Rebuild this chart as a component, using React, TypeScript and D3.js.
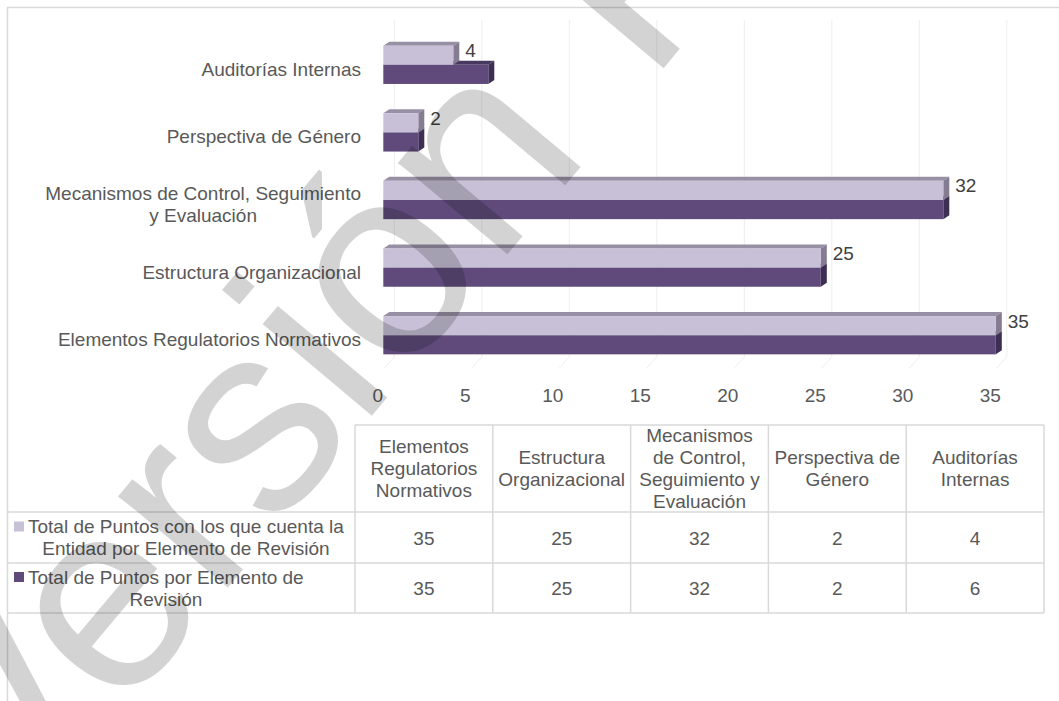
import React, { useEffect, useRef } from "react";
import * as d3 from "d3";

// ---------- data ----------
const categories = [
  "Elementos Regulatorios Normativos",
  "Estructura Organizacional",
  "Mecanismos de Control, Seguimiento y Evaluación",
  "Perspectiva de Género",
  "Auditorías Internas",
];
const axisLabelLines = [
  ["Elementos Regulatorios Normativos"],
  ["Estructura Organizacional"],
  ["Mecanismos de Control, Seguimiento", "y Evaluación"],
  ["Perspectiva de Género"],
  ["Auditorías Internas"],
];
const headerLines = [
  ["Elementos", "Regulatorios", "Normativos"],
  ["Estructura", "Organizacional"],
  ["Mecanismos", "de Control,", "Seguimiento y", "Evaluación"],
  ["Perspectiva de", "Género"],
  ["Auditorías", "Internas"],
];
const seriesNameLines = [
  ["Total de Puntos con los que cuenta la", "Entidad por Elemento de Revisión"],
  ["Total de Puntos por Elemento de", "Revisión"],
];
const puntosEntidad = [35, 25, 32, 2, 4];
const puntosTotales = [35, 25, 32, 2, 6];
const xTicks = [0, 5, 10, 15, 20, 25, 30, 35];
const watermarkWords = ["Versión", "Pública"];

// ---------- styles ----------
const W = 1059;
const H = 701;
const FONT = "'Liberation Sans', Arial, sans-serif";
const FS = 19;
const TEXT = "#595959";
const GRID = "#d9d9d9";
const lightColors = { front: "#c8c0d7", top: "#978fa4", side: "#857c92" };
const darkColors = { front: "#5f4a7b", top: "#48385f", side: "#3d2e53" };
const DX = 6;
const DY = 4;

export default function App() {
  const ref = useRef<SVGSVGElement>(null);

  useEffect(() => {
    const svg = d3.select(ref.current);
    svg.selectAll("*").remove();

    svg.append("rect").attr("width", W).attr("height", H).attr("fill", "#fff");

    const x = d3.scaleLinear().domain([0, 35]).range([383.3, 995.8]);
    const y = d3
      .scaleBand<string>()
      .domain(categories.slice().reverse())
      .range([31, 369])
      .paddingInner(0.4334)
      .paddingOuter(0.2167);
    const bw = y.bandwidth();

    // chart border
    svg
      .append("path")
      .attr("d", `M7.5,${H} V7.5 H${W}`)
      .attr("fill", "none")
      .attr("stroke", GRID)
      .attr("stroke-width", 1.5);

    // back wall gridlines + floor lines
    const grid = svg.append("g");
    xTicks.forEach((t) => {
      grid
        .append("line")
        .attr("x1", x(t) + 11)
        .attr("x2", x(t) + 11)
        .attr("y1", 20)
        .attr("y2", 357)
        .attr("stroke", "#eeeeee")
        .attr("stroke-width", 1);
      grid
        .append("line")
        .attr("x1", x(t) + 1)
        .attr("y1", 368)
        .attr("x2", x(t) + 11)
        .attr("y2", 357)
        .attr("stroke", "#eeeeee")
        .attr("stroke-width", 1);
    });

    // 3D bars
    const drawBar = (g: any, v: number, yT: number, yB: number, c: any) => {
      const x0 = x(0);
      const x1 = x(v);
      g.append("polygon")
        .attr(
          "points",
          [
            [x0, yT],
            [x0 + DX, yT - DY],
            [x1 + DX, yT - DY],
            [x1, yT],
          ].join(" ")
        )
        .attr("fill", c.top);
      g.append("polygon")
        .attr(
          "points",
          [
            [x1, yT],
            [x1 + DX, yT - DY],
            [x1 + DX, yB - DY],
            [x1, yB],
          ].join(" ")
        )
        .attr("fill", c.side);
      g.append("rect")
        .attr("x", x0)
        .attr("y", yT)
        .attr("width", x1 - x0)
        .attr("height", yB - yT)
        .attr("fill", c.front);
    };

    const bars = svg.append("g");
    categories.forEach((cat, i) => {
      const top = y(cat)!;
      const mid = top + bw / 2;
      const bot = top + bw;
      drawBar(bars, puntosTotales[i], mid, bot, darkColors);
      drawBar(bars, puntosEntidad[i], top, mid, lightColors);
      bars
        .append("text")
        .attr("x", x(puntosEntidad[i]) + DX + 6)
        .attr("y", top + 5)
        .attr("dominant-baseline", "central")
        .attr("font-family", FONT)
        .attr("font-size", FS)
        .attr("fill", "#404040")
        .text(String(puntosEntidad[i]));
    });

    // category axis labels
    const catG = svg.append("g");
    categories.forEach((cat, i) => {
      const lines = axisLabelLines[i];
      const center = y(cat)! + bw / 2 + 4.5;
      const texts = lines.map((ln, k) =>
        catG
          .append("text")
          .attr("y", center + (k - (lines.length - 1) / 2) * 21.7)
          .attr("dominant-baseline", "central")
          .attr("text-anchor", "middle")
          .attr("font-family", FONT)
          .attr("font-size", FS)
          .attr("fill", TEXT)
          .text(ln)
      );
      const maxW = d3.max(texts, (t: any) => (t.node() as SVGTextElement).getComputedTextLength()) || 0;
      texts.forEach((t: any) => t.attr("x", 361 - maxW / 2));
    });

    // value tick labels
    xTicks.forEach((t) => {
      svg
        .append("text")
        .attr("x", x(t) - 5.5)
        .attr("y", 395)
        .attr("dominant-baseline", "central")
        .attr("text-anchor", "middle")
        .attr("font-family", FONT)
        .attr("font-size", FS)
        .attr("fill", TEXT)
        .text(String(t));
    });

    // data table
    const col = d3.scaleBand<string>().domain(categories).range([355, 1044]);
    const tG = svg.append("g").attr("stroke", GRID).attr("stroke-width", 1.5);
    const tableTop = 425;
    const rowLines = [512, 563, 613];
    tG.append("line").attr("x1", 355).attr("x2", 1044).attr("y1", tableTop).attr("y2", tableTop);
    rowLines.forEach((ry) =>
      tG.append("line").attr("x1", 7).attr("x2", 1044).attr("y1", ry).attr("y2", ry)
    );
    categories.forEach((cat) => {
      tG.append("line")
        .attr("x1", col(cat)!)
        .attr("x2", col(cat)!)
        .attr("y1", tableTop)
        .attr("y2", 613);
    });
    tG.append("line").attr("x1", 1044).attr("x2", 1044).attr("y1", tableTop).attr("y2", 613);

    const headerCenter = (tableTop + rowLines[0]) / 2;
    categories.forEach((cat, i) => {
      const cx = col(cat)! + col.bandwidth() / 2;
      const lines = headerLines[i];
      lines.forEach((ln, k) => {
        svg
          .append("text")
          .attr("x", cx)
          .attr("y", headerCenter + (k - (lines.length - 1) / 2) * 21.7)
          .attr("dominant-baseline", "central")
          .attr("text-anchor", "middle")
          .attr("font-family", FONT)
          .attr("font-size", FS)
          .attr("fill", TEXT)
          .text(ln);
      });
    });

    const rowsData = [puntosEntidad, puntosTotales];
    const rowColors = [lightColors.front, darkColors.front];
    const rowBounds = [
      [rowLines[0], rowLines[1]],
      [rowLines[1], rowLines[2]],
    ];
    rowsData.forEach((vals, r) => {
      const rc = (rowBounds[r][0] + rowBounds[r][1]) / 2;
      categories.forEach((cat, i) => {
        svg
          .append("text")
          .attr("x", col(cat)! + col.bandwidth() / 2)
          .attr("y", rc + 0.5)
          .attr("dominant-baseline", "central")
          .attr("text-anchor", "middle")
          .attr("font-family", FONT)
          .attr("font-size", FS)
          .attr("fill", TEXT)
          .text(String(vals[i]));
      });
      const lines = seriesNameLines[r];
      const l0 = rc - 11;
      svg
        .append("rect")
        .attr("x", 14)
        .attr("y", l0 - 5)
        .attr("width", 10)
        .attr("height", 10)
        .attr("fill", rowColors[r]);
      const texts = lines.map((ln, k) =>
        svg
          .append("text")
          .attr("y", l0 + k * 22)
          .attr("dominant-baseline", "central")
          .attr("text-anchor", "middle")
          .attr("font-family", FONT)
          .attr("font-size", FS)
          .attr("fill", TEXT)
          .text(ln)
      );
      const maxW = d3.max(texts, (t: any) => (t.node() as SVGTextElement).getComputedTextLength()) || 0;
      texts.forEach((t: any) => t.attr("x", 28 + maxW / 2));
    });

    // watermark (two words placed along a -50° baseline)
    const ang = (-50 * Math.PI) / 180;
    const wmSize = 270;
    const ox = 13;
    const oy = 843.5;
    const wordOffsets = [0, 990];
    watermarkWords.forEach((w, i) => {
      const d = wordOffsets[i];
      const px = ox + d * Math.cos(ang);
      const py = oy + d * Math.sin(ang);
      svg
        .append("text")
        .attr("transform", `translate(${px},${py}) rotate(-50)`)
        .attr("font-family", FONT)
        .attr("font-size", wmSize)
        .attr("fill", "#000")
        .attr("fill-opacity", 0.172)
        .text(w);
    });
  }, []);

  return (
    <div style={{ position: "fixed", left: 0, top: 0 }}>
      <svg ref={ref} width={W} height={H} style={{ display: "block" }} />
    </div>
  );
}
